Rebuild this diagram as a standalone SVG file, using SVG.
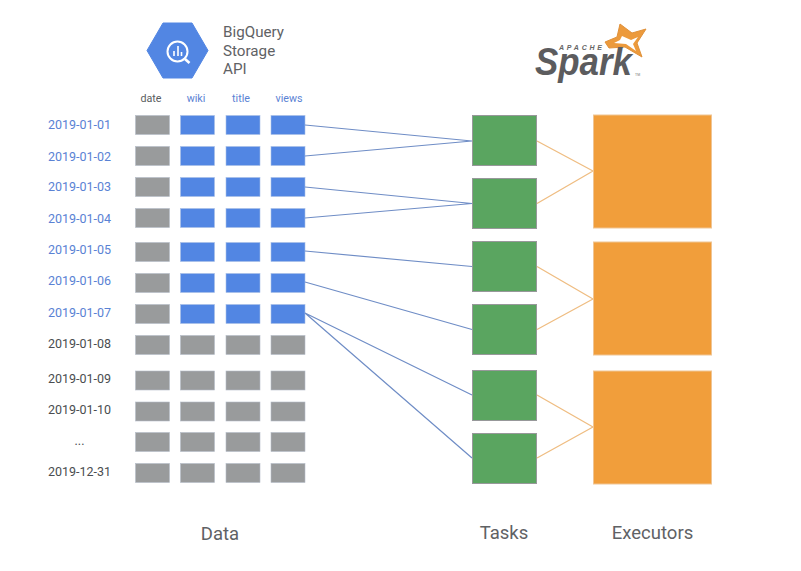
<svg xmlns="http://www.w3.org/2000/svg" width="801" height="571" viewBox="0 0 801 571">
<style>
text{font-family:"Roboto","Liberation Sans",sans-serif}
.d{font-size:12.5px;text-anchor:middle;fill:#4a4d50}
.h{font-size:10.7px;text-anchor:middle;fill:#5a5d60}
.h.b{fill:#5a82d4}
.d.b{fill:#5a82d4}
.g{fill:#999b9c;stroke:#b4bdc8;stroke-width:.6}
.u{fill:#5286e3;stroke:#a9bfe6;stroke-width:.6}
.t{fill:#5aa560;stroke:#97989a;stroke-width:1}
.e{fill:#f19e3b;stroke:#f0c594;stroke-width:1}
.c{fill:none;stroke-width:1.2}
.bl{stroke:#6f8dc6}
.or{stroke:#efbd82;stroke-width:1.3}
.lab{font-size:18.5px;text-anchor:middle;fill:#5f6265}
.api{font-size:15.2px;fill:#5f6265}
.logo{font-family:"Liberation Sans",sans-serif}
</style>
<rect width="801" height="571" fill="#fff"/>
<g id="bigquery-logo">
<polygon points="147,50.500 163,23 192,23 208,50.500 192,78 163,78" fill="#5286e3" stroke="#5286e3" stroke-linejoin="round" stroke-width="1"/>
<circle cx="177.500" cy="51.500" r="10" fill="none" stroke="#fff" stroke-width="2"/>
<line x1="185" y1="59" x2="189.500" y2="63" stroke="#fff" stroke-width="2.6"/>
<path d="M174 51v5M178 46v10M181.500 52v4" stroke="#fff" stroke-width="1.6"/>
<text class="api" x="223" y="37">BigQuery</text>
<text class="api" x="223" y="56">Storage</text>
<text class="api" x="223" y="74">API</text>
</g>
<g id="spark-logo">
<polygon points="620,24 632,33 646,29 637,43 642,57 625,47 609,48 605,42 617,37" fill="#ec9a3c" stroke="#e0913a" stroke-width="1" stroke-linejoin="round"/>
<polygon points="622,36 631,40 638,37 633,44 636,51 626,44 614,43 620,40" fill="#fff"/>
<text class="logo" x="559" y="49.500" font-size="7" font-weight="700" fill="#666" font-style="italic" textLength="43" lengthAdjust="spacing">APACHE</text>
<text class="logo" x="535" y="75" font-size="39" font-weight="700" font-style="italic" fill="#5c5c5e" textLength="97" lengthAdjust="spacingAndGlyphs">Spark</text>
<text class="logo" x="635" y="75.500" font-size="3.500" fill="#777">TM</text>
</g>
<g id="headers">
<text class="h" x="151" y="102">date</text>
<text class="h b" x="196" y="102">wiki</text>
<text class="h b" x="241" y="102">title</text>
<text class="h b" x="289" y="102">views</text>
</g>
<g id="row-1"><text class="d b" x="79.500" y="129">2019-01-01</text><rect class="g" x="135.500" y="115.500" width="34" height="19"/><rect class="u" x="180.500" y="115.500" width="34" height="19"/><rect class="u" x="226" y="115.500" width="34" height="19"/><rect class="u" x="271" y="115.500" width="34" height="19"/></g>
<g id="row-2"><text class="d b" x="79.500" y="160.500">2019-01-02</text><rect class="g" x="135.500" y="146.500" width="34" height="19"/><rect class="u" x="180.500" y="146.500" width="34" height="19"/><rect class="u" x="226" y="146.500" width="34" height="19"/><rect class="u" x="271" y="146.500" width="34" height="19"/></g>
<g id="row-3"><text class="d b" x="79.500" y="191">2019-01-03</text><rect class="g" x="135.500" y="177.500" width="34" height="19"/><rect class="u" x="180.500" y="177.500" width="34" height="19"/><rect class="u" x="226" y="177.500" width="34" height="19"/><rect class="u" x="271" y="177.500" width="34" height="19"/></g>
<g id="row-4"><text class="d b" x="79.500" y="222.500">2019-01-04</text><rect class="g" x="135.500" y="208.500" width="34" height="19"/><rect class="u" x="180.500" y="208.500" width="34" height="19"/><rect class="u" x="226" y="208.500" width="34" height="19"/><rect class="u" x="271" y="208.500" width="34" height="19"/></g>
<g id="row-5"><text class="d b" x="79.500" y="254">2019-01-05</text><rect class="g" x="135.500" y="242.500" width="34" height="19"/><rect class="u" x="180.500" y="242.500" width="34" height="19"/><rect class="u" x="226" y="242.500" width="34" height="19"/><rect class="u" x="271" y="242.500" width="34" height="19"/></g>
<g id="row-6"><text class="d b" x="79.500" y="285">2019-01-06</text><rect class="g" x="135.500" y="273.500" width="34" height="19"/><rect class="u" x="180.500" y="273.500" width="34" height="19"/><rect class="u" x="226" y="273.500" width="34" height="19"/><rect class="u" x="271" y="273.500" width="34" height="19"/></g>
<g id="row-7"><text class="d b" x="79.500" y="317">2019-01-07</text><rect class="g" x="135.500" y="304.500" width="34" height="19"/><rect class="u" x="180.500" y="304.500" width="34" height="19"/><rect class="u" x="226" y="304.500" width="34" height="19"/><rect class="u" x="271" y="304.500" width="34" height="19"/></g>
<g id="row-8"><text class="d" x="79.500" y="348">2019-01-08</text><rect class="g" x="135.500" y="335.500" width="34" height="19"/><rect class="g" x="180.500" y="335.500" width="34" height="19"/><rect class="g" x="226" y="335.500" width="34" height="19"/><rect class="g" x="271" y="335.500" width="34" height="19"/></g>
<g id="row-9"><text class="d" x="79.500" y="382.500">2019-01-09</text><rect class="g" x="135.500" y="371" width="34" height="19"/><rect class="g" x="180.500" y="371" width="34" height="19"/><rect class="g" x="226" y="371" width="34" height="19"/><rect class="g" x="271" y="371" width="34" height="19"/></g>
<g id="row-10"><text class="d" x="79.500" y="413.500">2019-01-10</text><rect class="g" x="135.500" y="402" width="34" height="19"/><rect class="g" x="180.500" y="402" width="34" height="19"/><rect class="g" x="226" y="402" width="34" height="19"/><rect class="g" x="271" y="402" width="34" height="19"/></g>
<g id="row-11"><text class="d" x="79.500" y="445">...</text><rect class="g" x="135.500" y="432.500" width="34" height="19"/><rect class="g" x="180.500" y="432.500" width="34" height="19"/><rect class="g" x="226" y="432.500" width="34" height="19"/><rect class="g" x="271" y="432.500" width="34" height="19"/></g>
<g id="row-12"><text class="d" x="79.500" y="476">2019-12-31</text><rect class="g" x="135.500" y="463.500" width="34" height="19"/><rect class="g" x="180.500" y="463.500" width="34" height="19"/><rect class="g" x="226" y="463.500" width="34" height="19"/><rect class="g" x="271" y="463.500" width="34" height="19"/></g>
<g id="connectors">
<path class="c bl" d="M305 125L472 141M305 156L472 141M305 187L472 203.500M305 218L472 203.500M305 251L472 266.500M305 282L472 329.500M305 313L472 395M305 313L472 458"/>
<path class="c or" d="M537 141L593 171M537 203.500L593 171M537 266.500L593 299M537 329.500L593 299M537 395L593 427M537 458L593 427"/>
</g>
<g id="task-1"><rect class="t" x="472.500" y="115.500" width="64" height="50"/></g>
<g id="task-2"><rect class="t" x="472.500" y="178.500" width="64" height="50"/></g>
<g id="task-3"><rect class="t" x="472.500" y="241.500" width="64" height="50"/></g>
<g id="task-4"><rect class="t" x="472.500" y="304.500" width="64" height="50"/></g>
<g id="task-5"><rect class="t" x="472.500" y="370.500" width="64" height="50"/></g>
<g id="task-6"><rect class="t" x="472.500" y="433.500" width="64" height="50"/></g>
<g id="executor-1"><rect class="e" x="593.500" y="115" width="118" height="113"/></g>
<g id="executor-2"><rect class="e" x="593.500" y="242" width="118" height="113"/></g>
<g id="executor-3"><rect class="e" x="593.500" y="371" width="118" height="113"/></g>
<g id="labels">
<text class="lab" x="220" y="540">Data</text>
<text class="lab" x="504" y="538.500">Tasks</text>
<text class="lab" x="652.500" y="538.500">Executors</text>
</g>
</svg>
